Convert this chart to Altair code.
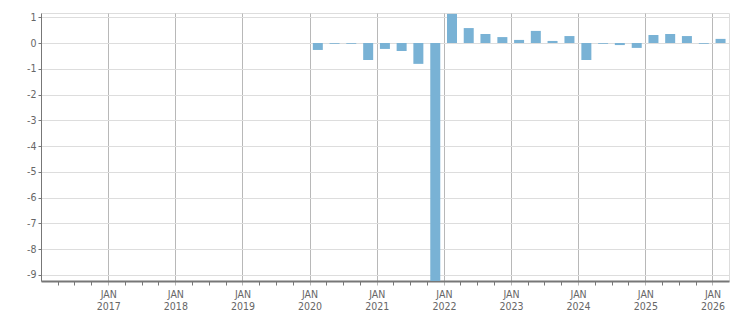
import altair as alt
import pandas as pd

quarters = ["2020Q1", "2020Q2", "2020Q3", "2020Q4",
            "2021Q1", "2021Q2", "2021Q3", "2021Q4",
            "2022Q1", "2022Q2", "2022Q3", "2022Q4",
            "2023Q1", "2023Q2", "2023Q3", "2023Q4",
            "2024Q1", "2024Q2", "2024Q3", "2024Q4",
            "2025Q1", "2025Q2", "2025Q3", "2025Q4",
            "2026Q1"]
values = [-0.27, -0.03, -0.03, -0.66,
          -0.23, -0.31, -0.81, -9.24,
          1.13, 0.58, 0.35, 0.23,
          0.12, 0.47, 0.08, 0.27,
          -0.66, -0.03, -0.08, -0.19,
          0.31, 0.35, 0.27, -0.03,
          0.16]
years = list(range(2017, 2027))
y_ticks = [1, 0, -1, -2, -3, -4, -5, -6, -7, -8, -9]

# mid-quarter date for each bar
per = pd.PeriodIndex(quarters, freq="Q")
mid = per.start_time + (per.end_time - per.start_time) / 2
df = pd.DataFrame({"date": mid.strftime("%Y-%m-%d"), "value": values})

# axis tick positions: every quarter start between 2016 and 2026
tick_dates = pd.period_range("2016Q2", "2026Q1", freq="Q").start_time
tick_vals = [alt.DateTime(year=int(d.year), month=int(d.month), date=1) for d in tick_dates]

FONT = "DejaVu Sans Condensed, DejaVu Sans"

x_axis = alt.Axis(
    values=tick_vals,
    title=None,
    labelExpr="month(datum.value)==0 ? ['JAN', timeFormat(datum.value, '%Y')] : ''",
    labelOverlap=False,
    labelFlush=False,
    labelFont=FONT,
    labelFontSize=10.5,
    labelColor="#666666",
    labelLineHeight=12.8,
    labelPadding=4,
    domainColor="#777777",
    domainWidth=2,
    tickColor={"condition": {"test": "month(datum.value)==0", "value": "#b8b8b8"}, "value": "#777777"},
    tickSize=4,
    grid=True,
    gridColor="#b8b8b8",
    gridOpacity={"condition": {"test": "month(datum.value)==0", "value": 1}, "value": 0},
)

y_axis = alt.Axis(
    values=y_ticks,
    title=None,
    labelExpr="'' + datum.value",
    labelFont=FONT,
    labelFontSize=10.5,
    labelColor="#666666",
    labelPadding=2,
    domainColor="#777777",
    domainWidth=1,
    tickColor="#777777",
    tickSize=3,
    gridColor="#dddddd",
)

chart = alt.Chart(df).mark_bar(size=10, color="#79b2d5").encode(
    x=alt.X("date:T", axis=x_axis,
            scale=alt.Scale(domain=[alt.DateTime(year=2016, month=1, date=1),
                                    alt.DateTime(year=2026, month=4, date=1)],
                            padding=0, nice=False)),
    y=alt.Y("value:Q", axis=y_axis,
            scale=alt.Scale(domain=[-9.24, 1.165], nice=False, zero=False, padding=0)),
).properties(
    width=688,
    height=268,
    autosize=alt.AutoSizeParams(type="none"),
    padding={"left": 41, "top": 13, "right": 22, "bottom": 32},
).configure_view(
    stroke="#dddddd",
)

chart.save("out.html", embed_options={"renderer": "svg", "actions": False})
